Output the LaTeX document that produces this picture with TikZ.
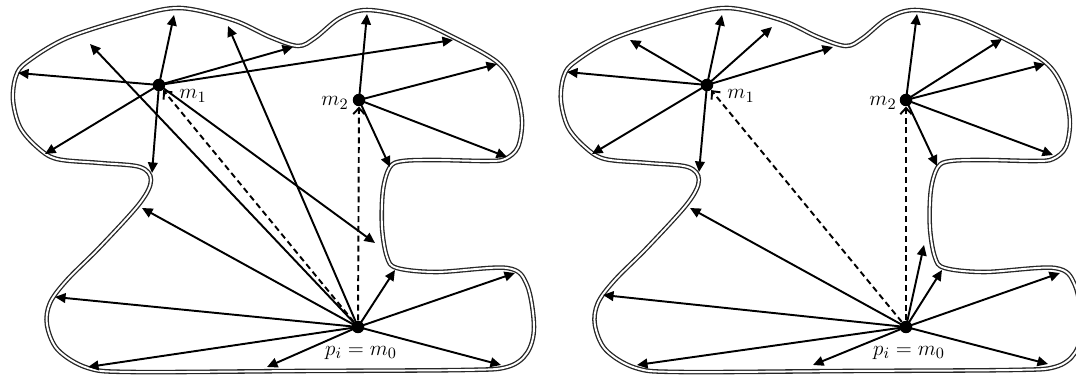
\documentclass[tikz,border=0pt]{standalone}
\usetikzlibrary{arrows.meta}
\begin{document}
\begin{tikzpicture}[x=0.02cm,y=-0.02cm,
  bnd/.style={draw=black!85,line width=0.75pt,double=white,double distance=1.1pt},
  arr/.style={line width=1.1pt,-{Triangle[length=6pt,width=5.5pt]}},
  darr/.style={line width=1.1pt,dash pattern=on 3.4pt off 2.2pt,-{Straight Barb[length=3.5pt,width=6.5pt,line width=1.1pt]}},
  dot/.style={circle,fill=black,inner sep=0pt,minimum size=0.25cm},
  lbl/.style={inner sep=0pt,font=\fontsize{13}{15}\selectfont}]
\useasboundingbox (0,0) rectangle (1076,378);
\def\outline{plot[smooth cycle,tension=0.55] coordinates {(180,8) (233,20) (270,37) (298,46) (315,38) (340,18) (367,10) (410,18) (453,37) (497,62) (515,88) (522,120) (518,147) (505,159) (487,161) (437,160) (403,161) (390,167) (383,190) (382,227) (387,257) (397,268) (437,272) (507,268) (527,285) (534,327) (527,353) (507,367) (463,370) (300,371) (133,372) (88,368) (58,350) (47,325) (50,303) (67,280) (100,247) (140,203) (151,180) (140,167) (100,163) (57,159) (37,147) (20,127) (13,100) (16,76) (27,62) (67,38) (133,17)}}
\draw[bnd] \outline;
\begin{scope}[xshift=10.96cm]
\draw[bnd] \outline;
\end{scope}
% ---------- left panel ----------
\node[dot] (Lm1) at (159,85) {};
\node[dot] (Lm2) at (359,100) {};
\node[dot] (Lp0) at (358,327) {};
\node[lbl] (Lm1l) at (193,96) {$m_1$};
\node[lbl] (Lm2l) at (335,103) {$m_2$};
\node[lbl] (Lp0l) at (361,353) {$p_i = m_0$};
\foreach \n/\x/\y in {a1/18/73,a2/45/154,a3/174/15,a4/152/173,a5/293/47,a6/453/40,a7/375/243,
  b1/367/14,b2/497/64,b3/507/157,b4/390/167,
  c1/90/44,c2/228/26,c3/142/208,c4/55/297,c5/88/367,c6/267/367,c7/395/270,c8/515/273,c9/501/365}
  \coordinate (L\n) at (\x,\y);
\foreach \t in {a1,a2,a3,a4,a5,a6,a7} \draw[arr] (Lm1.center) -- (L\t);
\foreach \t in {b1,b2,b3,b4} \draw[arr] (Lm2.center) -- (L\t);
\foreach \t in {c1,c2,c3,c4,c5,c6,c7,c8,c9} \draw[arr] (Lp0.center) -- (L\t);
\draw[darr] (Lp0) -- (Lm1);
\draw[darr] (Lp0) -- (Lm2);
% ---------- right panel ----------
\node[dot] (Rm1) at (707,85) {};
\node[dot] (Rm2) at (906,100) {};
\node[dot] (Rp0) at (906,327) {};
\node[lbl] (Rm1l) at (741,96) {$m_1$};
\node[lbl] (Rm2l) at (883,103) {$m_2$};
\node[lbl] (Rp0l) at (909,353) {$p_i = m_0$};
\foreach \n/\x/\y in {a1/567/72,a2/630/40,a3/722/15,a4/772/27,a5/833/47,a6/592/154,a7/699/172,
  b1/917/14,b2/1002/39,b3/1045/64,b4/1053/155,b5/937/166,
  c1/690/208,c2/603/295,c3/637/365,c4/813/365,c5/924/245,c6/942/270,c7/1060/273,c8/1048/364}
  \coordinate (R\n) at (\x,\y);
\foreach \t in {a1,a2,a3,a4,a5,a6,a7} \draw[arr] (Rm1.center) -- (R\t);
\foreach \t in {b1,b2,b3,b4,b5} \draw[arr] (Rm2.center) -- (R\t);
\foreach \t in {c1,c2,c3,c4,c5,c6,c7,c8} \draw[arr] (Rp0.center) -- (R\t);
\draw[darr] (Rp0) -- (Rm1);
\draw[darr] (Rp0) -- (Rm2);
\end{tikzpicture}
\end{document}
